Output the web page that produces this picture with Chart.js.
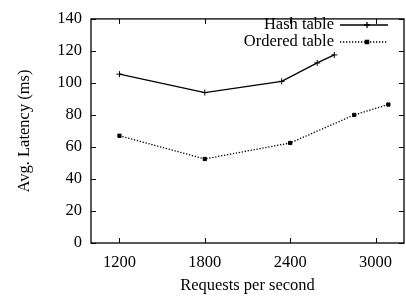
<!DOCTYPE html>
<html>
<head>
<meta charset="utf-8">
<script src="https://cdn.jsdelivr.net/npm/chart.js@4"></script>
<style>
  html, body { margin: 0; padding: 0; background: #fff; overflow: hidden; }
  #wrap { width: 409px; height: 297px; }
</style>
</head>
<body>
<div id="wrap"><canvas id="latChart" width="409" height="297"></canvas></div>
<script>
// datos
const hashX = [1200, 1800, 2340, 2590, 2710];
const hashY = [105.5, 94, 101, 112.5, 117.5];
const orderedX = [1200, 1800, 2400, 2850, 3090];
const orderedY = [67, 52.5, 62.5, 80, 86.5];
const xTicks = [1200, 1800, 2400, 3000];
const yTicks = [0, 20, 40, 60, 80, 100, 120, 140];
const seriesNames = ['Hash table', 'Ordered table'];

const FONT = 'Liberation Serif, Times New Roman, serif';
const FSIZE = 16.5;

function puntos(xs, ys) {
    return xs.map((x, i) => ({ x: x, y: ys[i] }));
}

// ticks hacia dentro en los cuatro lados, estilo gnuplot
const marcoPlugin = {
    id: 'marco',
    afterDraw(chart) {
        const ctx = chart.ctx;
        const a = chart.chartArea;
        const sx = chart.scales.x;
        const sy = chart.scales.y;
        ctx.save();
        ctx.strokeStyle = '#000';
        ctx.lineWidth = 1.3;
        ctx.strokeRect(a.left, a.top, a.right - a.left, a.bottom - a.top);
        ctx.lineWidth = 1;
        ctx.beginPath();
        xTicks.forEach(v => {
            const px = Math.round(sx.getPixelForValue(v)) + 0.5;
            ctx.moveTo(px, a.bottom); ctx.lineTo(px, a.bottom - 5);
            ctx.moveTo(px, a.top); ctx.lineTo(px, a.top + 5);
        });
        yTicks.forEach(v => {
            const py = Math.round(sy.getPixelForValue(v)) + 0.5;
            ctx.moveTo(a.left, py); ctx.lineTo(a.left + 5, py);
            ctx.moveTo(a.right, py); ctx.lineTo(a.right - 5, py);
        });
        ctx.stroke();

        // leyenda: texto a la izquierda, muestra a la derecha
        ctx.font = FSIZE + 'px ' + FONT;
        ctx.fillStyle = '#000';
        ctx.textAlign = 'right';
        ctx.textBaseline = 'middle';
        chart.data.datasets.forEach((ds, i) => {
            const y = 25 + i * 17;
            ctx.fillText(ds.label, 334, y);
            ctx.setLineDash(ds.borderDash || []);
            ctx.lineWidth = ds.borderWidth;
            ctx.beginPath();
            ctx.moveTo(340, y); ctx.lineTo(388, y);
            ctx.stroke();
            ctx.setLineDash([]);
            Chart.helpers.drawPoint(ctx, {
                pointStyle: ds.pointStyle, radius: ds.pointRadius,
                borderWidth: 1, rotation: 0
            }, 367, y);
            if (ds.pointStyle === 'rect') ctx.fill();
        });
        ctx.restore();
    }
};

new Chart(document.getElementById('latChart'), {
    type: 'line',
    data: {
        datasets: [{
            label: seriesNames[0],
            data: puntos(hashX, hashY),
            borderColor: '#000',
            backgroundColor: '#000',
            borderWidth: 1.3,
            pointStyle: 'cross',
            pointRadius: 3,
            pointBorderWidth: 1,
            tension: 0
        }, {
            label: seriesNames[1],
            data: puntos(orderedX, orderedY),
            borderColor: '#000',
            backgroundColor: '#000',
            borderWidth: 1.3,
            borderDash: [1.3, 1.7],
            pointStyle: 'rect',
            pointRadius: 2.3,
            pointBorderWidth: 1,
            tension: 0
        }]
    },
    options: {
        responsive: false,
        animation: false,
        layout: { padding: { top: 13, right: 0, left: 0, bottom: 0 } },
        plugins: { legend: { display: false }, tooltip: { enabled: false } },
        scales: {
            x: {
                type: 'linear',
                min: 1000,
                max: 3200,
                afterBuildTicks: s => { s.ticks = xTicks.map(v => ({ value: v })); },
                afterFit: s => { s.height = 54; },
                grid: { display: false, drawTicks: false },
                border: { display: false },
                ticks: {
                    color: '#000', padding: 10, font: { family: FONT, size: FSIZE },
                    callback: v => String(v)
                },
                title: {
                    display: true, text: 'Requests per second', color: '#000',
                    padding: { top: 0, bottom: 1 }, font: { family: FONT, size: FSIZE }
                }
            },
            y: {
                min: 0,
                max: 140,
                afterBuildTicks: s => { s.ticks = yTicks.map(v => ({ value: v })); },
                afterFit: s => { s.width = 91; },
                grid: { display: false, drawTicks: false },
                border: { display: false },
                ticks: {
                    color: '#000', padding: 9, font: { family: FONT, size: FSIZE },
                    callback: v => String(v)
                },
                title: {
                    display: true, text: 'Avg. Latency (ms)', color: '#000',
                    padding: { top: 15, bottom: 0 }, font: { family: FONT, size: FSIZE }
                }
            }
        }
    },
    plugins: [marcoPlugin]
});
</script>
</body>
</html>
